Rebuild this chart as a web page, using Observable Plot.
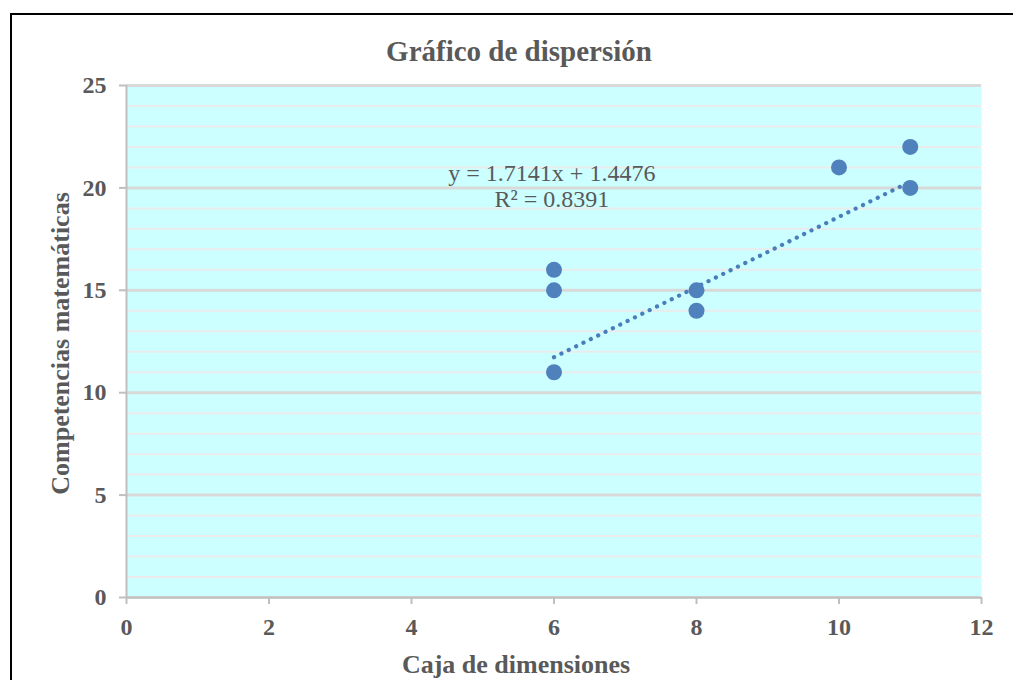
<!DOCTYPE html>
<html>
<head>
<meta charset="utf-8">
<script src="https://cdn.jsdelivr.net/npm/d3@7"></script>
<script src="https://cdn.jsdelivr.net/npm/@observablehq/plot@0.6"></script>
<style>
  html, body { margin: 0; padding: 0; background: #fff; overflow: hidden; width: 1013px; height: 680px; }
  #border { position: absolute; left: 10px; top: 13px; width: 1100px; height: 800px;
            border-left: 2px solid #000; border-top: 2px solid #000; box-sizing: border-box; }
  #chart { position: absolute; left: 0; top: 0; }
</style>
</head>
<body>
<div id="border"></div>
<div id="chart"></div>
<script>
// ---- data ----
const cajaDimensiones = [6, 6, 6, 8, 8, 10, 11, 11];
const competencias    = [16, 15, 11, 15, 14, 21, 22, 20];
const xTicks = [0, 2, 4, 6, 8, 10, 12];
const yTicks = [0, 5, 10, 15, 20, 25];
const yMinorTicks = [1,2,3,4,6,7,8,9,11,12,13,14,16,17,18,19,21,22,23,24];
const trendSlope = 1.7141;
const trendIntercept = 1.4476;
const trendR2 = 0.8391;
const trendRange = [6, 11];
const titleText = "Gráfico de dispersión";
const xLabel = "Caja de dimensiones";
const yLabel = "Competencias matemáticas";

const points = cajaDimensiones.map((x, i) => ({x, y: competencias[i]}));
const trend = trendRange.map(x => ({x, y: trendSlope * x + trendIntercept}));
const eqText = `y = ${trendSlope}x + ${trendIntercept}\nR² = ${trendR2}`;

const grey = "#595959";
const font = "'Liberation Serif', 'Times New Roman', serif";

const plot = Plot.plot({
  width: 1013,
  height: 680,
  marginLeft: 126,
  marginRight: 32,
  marginTop: 85,
  marginBottom: 83,
  style: { fontFamily: font, background: "transparent" },
  x: { domain: [0, 12] },
  y: { domain: [0, 25] },
  marks: [
    Plot.frame({ fill: "#ccffff", stroke: null }),
    Plot.ruleY(yMinorTicks, { stroke: "#ebebeb", strokeWidth: 2 }),
    Plot.ruleY(yTicks, { stroke: "#d9d9d9", strokeWidth: 3 }),
    Plot.ruleX([0], { stroke: "#bfbfbf", strokeWidth: 2 }),
    Plot.ruleY([0], { stroke: "#bfbfbf", strokeWidth: 2 }),
    Plot.axisX({ ticks: xTicks, tickSize: 7, tickPadding: 13, stroke: "#bfbfbf", strokeWidth: 2,
                 fill: grey, fontSize: 24, fontWeight: "bold", label: null }),
    Plot.axisY({ ticks: yTicks, tickSize: 7, tickPadding: 13, stroke: "#bfbfbf", strokeWidth: 2,
                 fill: grey, fontSize: 24, fontWeight: "bold", label: null }),
    Plot.line(trend, { x: "x", y: "y", stroke: "#4a7ebb", strokeWidth: 4.2,
                       strokeDasharray: "0.1,8.1", strokeLinecap: "round" }),
    Plot.dot(points, { x: "x", y: "y", r: 8, fill: "#4f81bd", stroke: null }),
    Plot.text([{ x: 5.97, y: 21.19, t: eqText }], { x: "x", y: "y", text: "t", lineAnchor: "top",
               fontSize: 24, fill: grey, lineHeight: 1.05 }),
    Plot.text([titleText], { text: d => d, frameAnchor: "top", lineAnchor: "bottom", dx: -35, dy: -25,
               fontSize: 29, fontWeight: "bold", fill: grey }),
    Plot.text([xLabel], { text: d => d, frameAnchor: "bottom", lineAnchor: "bottom", dx: -38, dy: 75,
               fontSize: 26, fontWeight: "bold", fill: grey }),
    Plot.text([yLabel], { text: d => d, frameAnchor: "left", textAnchor: "middle", lineAnchor: "middle",
               rotate: -90, dx: -66, dy: 2, fontSize: 26, fontWeight: "bold", fill: grey })
  ]
});
document.getElementById("chart").appendChild(plot);
</script>
</body>
</html>
